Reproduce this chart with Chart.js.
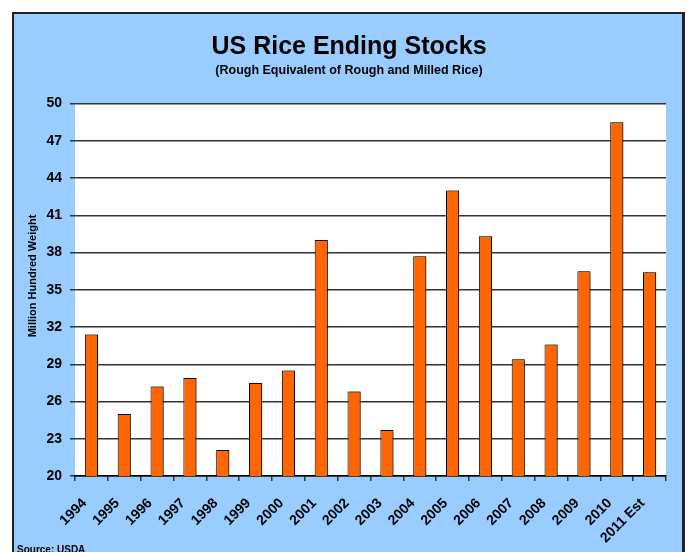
<!DOCTYPE html>
<html>
<head>
<meta charset="utf-8">
<script src="https://cdn.jsdelivr.net/npm/chart.js@4.4.1/dist/chart.umd.min.js"></script>
<style>
  body { margin: 0; background: #fff; }
  #frame { position: absolute; left: 12px; top: 12px; width: 673px; height: 560px;
           box-sizing: border-box; border: 2px solid #222; border-right-width: 3px; background: #99ccff; }
  #wrap { position: absolute; left: 0; top: 0; width: 691px; height: 552px; }
</style>
</head>
<body>
<div id="frame"></div>
<div id="wrap"><canvas id="riceChart" width="691" height="552"></canvas></div>
<script>
const years = ['1994','1995','1996','1997','1998','1999','2000','2001','2002','2003',
               '2004','2005','2006','2007','2008','2009','2010','2011 Est'];
const stocks = [31.4, 25.0, 27.2, 27.9, 22.1, 27.5, 28.5, 39.0, 26.8, 23.7,
                37.7, 43.0, 39.3, 29.4, 30.6, 36.5, 48.5, 36.4];
const yMin = 20, yMax = 50, yStep = 3;

const font = 'Liberation Sans, Arial, sans-serif';

// white plot area + bar shadows + extra texts
const decor = {
  id: 'decor',
  beforeDraw(chart) {
    const a = chart.chartArea, ctx = chart.ctx;
    ctx.save();
    ctx.fillStyle = '#fff';
    ctx.fillRect(a.left, a.top, a.right - a.left, a.bottom - a.top);
    ctx.restore();
  },
  beforeDatasetsDraw(chart) {
    const ctx = chart.ctx;
    ctx.save();
    ctx.shadowColor = 'rgba(0,0,0,0.4)';
    ctx.shadowOffsetX = 2;
    ctx.shadowOffsetY = -1;
    ctx.shadowBlur = 1;
  },
  afterDatasetsDraw(chart) {
    chart.ctx.restore();
  },
  afterDraw(chart) {
    const ctx = chart.ctx;
    ctx.save();
    ctx.fillStyle = '#000';
    ctx.font = 'bold 11px ' + font;
    ctx.translate(33, 276);
    ctx.rotate(-Math.PI / 2);
    ctx.textAlign = 'center';
    ctx.textBaseline = 'middle';
    ctx.fillText('Million Hundred Weight', 0, 0);
    ctx.restore();
    ctx.save();
    ctx.fillStyle = '#000';
    ctx.font = 'bold 10px ' + font;
    ctx.textBaseline = 'alphabetic';
    ctx.fillText('Source: USDA', 17, 553);
    ctx.restore();
  }
};

const ctx = document.getElementById('riceChart').getContext('2d');
new Chart(ctx, {
  type: 'bar',
  data: {
    labels: years,
    datasets: [{
      data: stocks,
      backgroundColor: '#ff6600',
      borderColor: '#000',
      borderWidth: 1,
      borderSkipped: false,
      barPercentage: 0.4,
      categoryPercentage: 1
    }]
  },
  options: {
    responsive: false,
    animation: false,
    layout: { padding: { left: 32, right: 25, top: 0, bottom: 0 } },
    plugins: {
      legend: { display: false },
      tooltip: { enabled: false },
      title: {
        display: true,
        text: 'US Rice Ending Stocks',
        color: '#000',
        font: { family: font, size: 25, weight: 'bold' },
        padding: { top: 32, bottom: 0 }
      },
      subtitle: {
        display: true,
        text: '(Rough Equivalent of Rough and Milled Rice)',
        color: '#000',
        font: { family: font, size: 12.5, weight: 'bold' },
        padding: { top: 1, bottom: 25.5 }
      }
    },
    scales: {
      x: {
        afterFit(scale) { scale.height = 76; },
        grid: { offset: true, drawOnChartArea: false, drawTicks: true, tickLength: 5, color: '#333', lineWidth: 1.5 },
        border: { display: true, color: '#000', width: 1.5 },
        ticks: {
          color: '#000',
          font: { family: font, size: 14, weight: 'bold' },
          minRotation: 45, maxRotation: 45,
          autoSkip: false,
          padding: 14,
          labelOffset: -7
        }
      },
      y: {
        min: yMin, max: yMax,
        afterFit(scale) { scale.width = 43; },
        grid: { color: '#333', lineWidth: 1.5, tickLength: 5 },
        border: { display: false },
        ticks: {
          stepSize: yStep,
          color: '#000',
          font: { family: font, size: 14, weight: 'bold' },
          padding: 8
        }
      }
    }
  },
  plugins: [decor]
});
</script>
</body>
</html>
